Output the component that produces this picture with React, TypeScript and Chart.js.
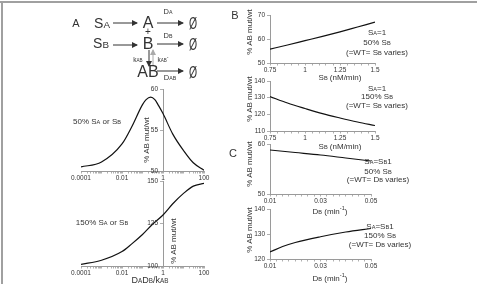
import React, { useEffect, useRef } from 'react';
import { Chart, registerables } from 'chart.js';
Chart.register(...registerables);

// ---------- data ----------
// Panel A (log x: DADB/kAB)
const a50X = [0.0001, 0.001, 0.01, 0.03, 0.1, 0.15, 0.25, 0.4, 0.6, 1, 3, 10, 30, 100];
const a50Y = [50.5, 51.1, 53.3, 55.4, 58.1, 58.7, 59.0, 58.7, 58.0, 57.0, 54.5, 52.5, 51.0, 50.1];
const a150X = [0.0001, 0.001, 0.01, 0.03, 0.1, 0.3, 1, 3, 10, 30, 100];
const a150Y = [101, 103.4, 108.5, 113, 118.5, 124.4, 130, 136.6, 142.7, 147, 148.6];
const aXTicks = [0.0001, 0.01, 1, 100];
const aXTickLabels = ['0.0001', '0.01', '1', '100'];
const a50YTicks = [50, 55, 60];
const a150YTicks = [100, 125, 150];

// Panel B (SB, nM/min)
const bX = [0.75, 0.875, 1, 1.125, 1.25, 1.375, 1.5];
const b50Y = [55.8, 57.5, 59.3, 61.1, 63.0, 65.0, 67.0];
const b150Y = [130.7, 126.8, 123.5, 120.4, 117.8, 115.4, 113.3];
const bXTicks = [0.75, 1, 1.25, 1.5];
const bXTickLabels = ['0.75', '1', '1.25', '1.5'];
const b50YTicks = [50, 60, 70];
const b150YTicks = [110, 120, 130, 140];

// Panel C (DB, min-1)
const c50X = [0.01, 0.02, 0.03, 0.04, 0.05];
const c50Y = [58.8, 58.3, 57.8, 57.2, 56.6];
const c150X = [0.01, 0.015, 0.02, 0.03, 0.04, 0.05];
const c150Y = [122.8, 125.0, 126.6, 128.9, 130.8, 132.2];
const cXTicks = [0.01, 0.03, 0.05];
const cXTickLabels = ['0.01', '0.03', '0.05'];
const c50YTicks = [50, 60];
const c150YTicks = [120, 130, 140];

// ---------- styling ----------
const FONT = '"Liberation Sans", Arial, sans-serif';
const AXIS = '#9a9a9a';
const TXT = '#333';
const PADL = 45, PADT = 8, PADR = 10, XH = 14, YW = 26;

type Area = { l: number; t: number; r: number; b: number };

function logMinor(min: number, max: number) {
  const out: number[] = [];
  for (let e = Math.round(Math.log10(min)); e < Math.round(Math.log10(max)); e++) {
    for (let m = 1; m < 10; m++) out.push(m * Math.pow(10, e));
  }
  out.push(max);
  return out;
}
function linMinor(min: number, max: number, step: number) {
  const out: number[] = [];
  const n = Math.round((max - min) / step);
  for (let i = 0; i <= n; i++) out.push(+(min + i * step).toFixed(6));
  return out;
}

type PlotProps = {
  area: Area;
  xLog?: boolean;
  xMin: number; xMax: number;
  xMajor: number[]; xLabels: string[]; xAll: number[];
  yMin: number; yMax: number; yTicks: number[];
  yAtX?: number;
  xs: number[]; ys: number[];
};

function Plot(p: PlotProps) {
  const ref = useRef<HTMLCanvasElement>(null);
  const w = p.area.r - p.area.l + PADL + PADR;
  const h = p.area.b - p.area.t + PADT + XH;
  useEffect(() => {
    if (!ref.current) return;
    const labelFor = (v: number) => {
      const i = p.xMajor.findIndex((m) => Math.abs(m - v) <= Math.abs(m) * 1e-6);
      return i >= 0 ? p.xLabels[i] : '';
    };
    const centered = p.yAtX !== undefined;
    // draws the y tick labels of an axis that crosses the plot at x = yAtX
    const crossLabels = {
      id: 'crossLabels',
      afterDraw(c: any) {
        if (!centered) return;
        const ctx = c.ctx;
        const xs = c.scales.x;
        const ysc = c.scales.y;
        const x0 = xs.getPixelForValue(p.yAtX) - 5;
        ctx.save();
        ctx.font = `6.5px ${FONT}`;
        ctx.fillStyle = TXT;
        ctx.textAlign = 'right';
        ctx.textBaseline = 'middle';
        p.yTicks.forEach((v) => ctx.fillText(String(v), x0, ysc.getPixelForValue(v)));
        ctx.restore();
      },
    };
    const chart = new Chart(ref.current, {
      type: 'line',
      data: {
        datasets: [
          {
            data: p.xs.map((x, i) => ({ x, y: p.ys[i] })),
            borderColor: '#111',
            borderWidth: 1.2,
            pointRadius: 0,
            cubicInterpolationMode: 'monotone',
            fill: false,
          },
        ],
      },
      plugins: [crossLabels],
      options: {
        responsive: false,
        animation: false,
        maintainAspectRatio: false,
        layout: { padding: { left: centered ? PADL : PADL - YW, top: PADT, right: PADR, bottom: 0 } },
        plugins: { legend: { display: false }, tooltip: { enabled: false }, title: { display: false } },
        scales: {
          x: {
            type: p.xLog ? 'logarithmic' : 'linear',
            min: p.xMin,
            max: p.xMax,
            afterBuildTicks: (s: any) => {
              s.ticks = p.xAll.map((v) => ({ value: v }));
            },
            afterFit: (s: any) => {
              s.height = XH;
            },
            ticks: {
              autoSkip: false,
              maxRotation: 0,
              minRotation: 0,
              padding: 1,
              color: TXT,
              font: { size: 6.5, family: FONT },
              callback: (v: any) => labelFor(Number(v)),
            },
            grid: { drawOnChartArea: false, drawTicks: true, tickLength: 2.5, color: AXIS, lineWidth: 0.8 },
            border: { color: AXIS, width: 1 },
          } as any,
          y: {
            type: 'linear',
            position: centered ? { x: p.yAtX } : 'left',
            min: p.yMin,
            max: p.yMax,
            afterBuildTicks: (s: any) => {
              s.ticks = p.yTicks.map((v) => ({ value: v }));
            },
            afterFit: (s: any) => {
              if (!centered) s.width = YW;
            },
            ticks: {
              display: !centered,
              autoSkip: false,
              padding: 2,
              color: TXT,
              font: { size: 6.5, family: FONT },
              callback: (v: any) => String(v),
            },
            grid: { drawOnChartArea: false, drawTicks: true, tickLength: 3, color: AXIS, lineWidth: 0.8 },
            border: { color: AXIS, width: 1 },
          } as any,
        },
      },
    });
    return () => chart.destroy();
  }, []);
  return (
    <canvas
      ref={ref}
      width={w}
      height={h}
      style={{ position: 'absolute', left: p.area.l - PADL, top: p.area.t - PADT, width: w, height: h }}
    />
  );
}

const Sub = ({ children }: { children: any }) => <span style={{ fontSize: '0.7em' }}>{children}</span>;

function T({ x, y, size = 8, rot = false, color = TXT, sx = 1, children }: any) {
  return (
    <div
      style={{
        position: 'absolute',
        left: x,
        top: y,
        transform: `translate(-50%, -50%)${rot ? ' rotate(-90deg)' : ''}${sx !== 1 ? ` scaleX(${sx})` : ''}`,
        fontSize: size,
        fontFamily: FONT,
        color,
        whiteSpace: 'nowrap',
        lineHeight: 1,
      }}
    >
      {children}
    </div>
  );
}

const YT = '% AB mut/wt';
const NULLSET = 'Ø';

export default function App() {
  return (
    <div style={{ position: 'fixed', left: 0, top: 0, width: 480, height: 284, background: '#fff', overflow: 'hidden' }}>
      {/* frame */}
      <div style={{ position: 'absolute', left: 0, top: 1, width: 477, height: 1.5, background: '#a0a0a0' }} />
      <div style={{ position: 'absolute', left: 1, top: 1, width: 1.5, height: 283, background: '#a0a0a0' }} />

      {/* charts */}
      <Plot area={{ l: 81, t: 89, r: 204, b: 171 }} xLog xMin={0.0001} xMax={100} xMajor={aXTicks} xLabels={aXTickLabels}
        xAll={logMinor(0.0001, 100)} yMin={50} yMax={60} yTicks={a50YTicks} yAtX={1} xs={a50X} ys={a50Y} />
      <Plot area={{ l: 81, t: 181, r: 204, b: 266 }} xLog xMin={0.0001} xMax={100} xMajor={aXTicks} xLabels={aXTickLabels}
        xAll={logMinor(0.0001, 100)} yMin={100} yMax={150} yTicks={a150YTicks} yAtX={1} xs={a150X} ys={a150Y} />
      <Plot area={{ l: 270, t: 15, r: 375, b: 63.3 }} xMin={0.75} xMax={1.5} xMajor={bXTicks} xLabels={bXTickLabels}
        xAll={linMinor(0.75, 1.5, 0.05)} yMin={50} yMax={70} yTicks={b50YTicks} xs={bX} ys={b50Y} />
      <Plot area={{ l: 270, t: 80.7, r: 375, b: 131 }} xMin={0.75} xMax={1.5} xMajor={bXTicks} xLabels={bXTickLabels}
        xAll={linMinor(0.75, 1.5, 0.05)} yMin={110} yMax={140} yTicks={b150YTicks} xs={bX} ys={b150Y} />
      <Plot area={{ l: 270, t: 144, r: 371, b: 194.3 }} xMin={0.01} xMax={0.05} xMajor={cXTicks} xLabels={cXTickLabels}
        xAll={linMinor(0.01, 0.05, 0.0025)} yMin={50} yMax={60} yTicks={c50YTicks} xs={c50X} ys={c50Y} />
      <Plot area={{ l: 270, t: 209, r: 371, b: 259.3 }} xMin={0.01} xMax={0.05} xMajor={cXTicks} xLabels={cXTickLabels}
        xAll={linMinor(0.01, 0.05, 0.0025)} yMin={120} yMax={140} yTicks={c150YTicks} xs={c150X} ys={c150Y} />

      {/* diagram arrows */}
      <svg width={480} height={284} style={{ position: 'absolute', left: 0, top: 0 }}>
        <defs>
          <marker id="ah" markerWidth="6" markerHeight="6" refX="5" refY="3" orient="auto" markerUnits="userSpaceOnUse">
            <path d="M0,0 L6,3 L0,6 z" fill="#333" />
          </marker>
          <marker id="ahg" markerWidth="6" markerHeight="6" refX="5" refY="3" orient="auto" markerUnits="userSpaceOnUse">
            <path d="M0,0 L6,3 L0,6 z" fill="#aaa" />
          </marker>
        </defs>
        <line x1={113} y1={23} x2={137} y2={23} stroke="#333" strokeWidth={1} markerEnd="url(#ah)" />
        <line x1={157} y1={23} x2={183} y2={23} stroke="#333" strokeWidth={1} markerEnd="url(#ah)" />
        <line x1={113} y1={45} x2={137} y2={45} stroke="#333" strokeWidth={1} markerEnd="url(#ah)" />
        <line x1={157} y1={44} x2={183} y2={44} stroke="#333" strokeWidth={1} markerEnd="url(#ah)" />
        <line x1={149} y1={50} x2={149} y2={66} stroke="#333" strokeWidth={1} markerEnd="url(#ah)" />
        <line x1={153} y1={66} x2={153} y2={50} stroke="#aaa" strokeWidth={1} markerEnd="url(#ahg)" />
        <line x1={157} y1={71} x2={183} y2={71} stroke="#333" strokeWidth={1} markerEnd="url(#ah)" />
      </svg>

      {/* diagram text */}
      <T x={76} y={23} size={11}>A</T>
      <T x={102} y={23} size={14}>S<Sub>A</Sub></T>
      <T x={148} y={23} size={16}>A</T>
      <T x={168} y={12} size={7.5}>D<Sub>A</Sub></T>
      <T x={193} y={24} size={16} sx={0.65}>{NULLSET}</T>
      <T x={148} y={32} size={10}>+</T>
      <T x={101} y={43} size={14}>S<Sub>B</Sub></T>
      <T x={148} y={44} size={16}>B</T>
      <T x={168} y={36} size={7.5}>D<Sub>B</Sub></T>
      <T x={193} y={45} size={16} sx={0.65}>{NULLSET}</T>
      <T x={138} y={60} size={6.5}>k<Sub>AB</Sub></T>
      <T x={163} y={59} size={6.5}>k<Sub>AB</Sub><sup style={{ fontSize: '0.8em' }}>-</sup></T>
      <T x={148} y={72} size={16}>AB</T>
      <T x={170} y={78} size={7.5}>D<Sub>AB</Sub></T>
      <T x={193} y={73} size={16} sx={0.65}>{NULLSET}</T>

      {/* panel A texts */}
      <T x={97} y={122}>50% S<Sub>A</Sub> or S<Sub>B</Sub></T>
      <T x={102} y={223}>150% S<Sub>A</Sub> or S<Sub>B</Sub></T>
      <T x={147} y={140} rot>{YT}</T>
      <T x={174} y={241} rot>{YT}</T>
      <T x={150} y={280} size={9}>D<Sub>A</Sub>D<Sub>B</Sub>/k<Sub>AB</Sub></T>

      {/* panel letters */}
      <T x={235} y={15} size={11}>B</T>
      <T x={233} y={153} size={11}>C</T>

      {/* panel B texts */}
      <T x={250} y={32} rot>{YT}</T>
      <T x={377} y={33}>S<Sub>A</Sub>=1</T>
      <T x={377} y={43}>50% S<Sub>B</Sub></T>
      <T x={377} y={52.5}>(=WT= S<Sub>B</Sub> varies)</T>
      <T x={340} y={78}>S<Sub>B</Sub> (nM/min)</T>

      <T x={250} y={99} rot>{YT}</T>
      <T x={377} y={88.5}>S<Sub>A</Sub>=1</T>
      <T x={377} y={97}>150% S<Sub>B</Sub></T>
      <T x={377} y={105.5}>(=WT= S<Sub>B</Sub> varies)</T>
      <T x={340} y={147}>S<Sub>B</Sub> (nM/min)</T>

      {/* panel C texts */}
      <T x={250} y={164} rot>{YT}</T>
      <T x={378} y={161.5}>S<Sub>A</Sub>=S<Sub>B</Sub>1</T>
      <T x={378} y={171.5}>50% S<Sub>B</Sub></T>
      <T x={378} y={180}>(=WT= D<Sub>B</Sub> varies)</T>
      <T x={330} y={211}>D<Sub>B</Sub> (min<sup style={{ fontSize: '0.7em' }}>-1</sup>)</T>

      <T x={250} y={230} rot>{YT}</T>
      <T x={380} y={227}>S<Sub>A</Sub>=S<Sub>B</Sub>1</T>
      <T x={380} y={236}>150% S<Sub>B</Sub></T>
      <T x={380} y={245}>(=WT= D<Sub>B</Sub> varies)</T>
      <T x={330} y={278}>D<Sub>B</Sub> (min<sup style={{ fontSize: '0.7em' }}>-1</sup>)</T>
    </div>
  );
}
